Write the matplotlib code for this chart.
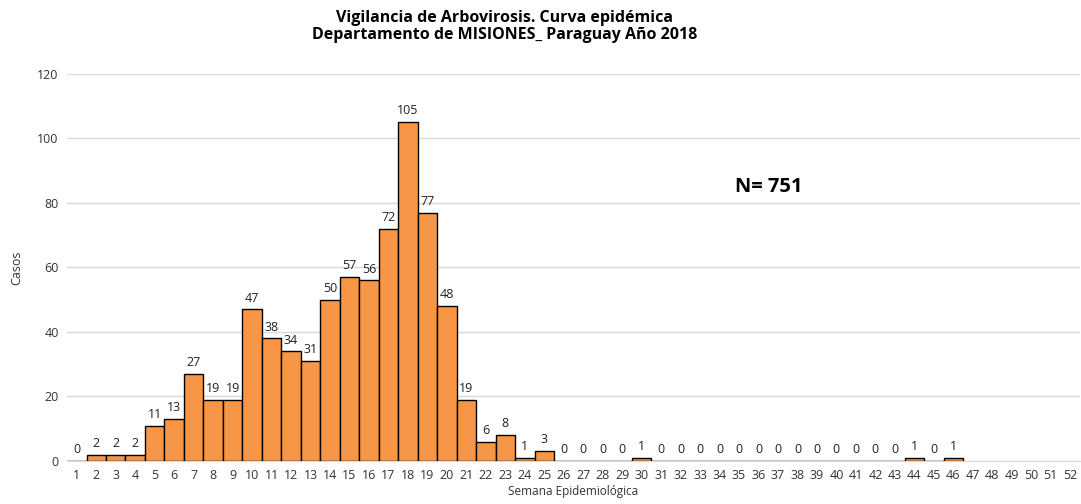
import matplotlib.pyplot as plt

# Weekly cases, weeks 1-46 (weeks 47-52 have no data).
weeks = list(range(1, 47))
cases = [0, 2, 2, 2, 11, 13, 27, 19, 19, 47, 38, 34, 31, 50, 57, 56, 72, 105, 77, 48,
         19, 6, 8, 1, 3, 0, 0, 0, 0, 1, 0, 0, 0, 0, 0, 0, 0, 0, 0, 0,
         0, 0, 0, 1, 0, 1]
all_weeks = list(range(1, 53))
yticks = [0, 20, 40, 60, 80, 100, 120]
title = "Vigilancia de Arbovirosis. Curva epidémica\nDepartamento de MISIONES_ Paraguay Año 2018"
total_label = "N= 751"

plt.rcParams['font.family'] = ['Open Sans', 'DejaVu Sans']

fig = plt.figure(figsize=(10.81, 5.04), dpi=100)
ax = fig.add_axes([0.062, 0.0853, 0.937, 0.768])

ax.bar(weeks, cases, width=1.0, color='#F79646', edgecolor='black', linewidth=1.0, zorder=3)
for x, v in zip(weeks, cases):
    ax.text(x, v + 1.5, str(v), ha='center', va='bottom', fontsize=9, color='#222222')

ax.set_xlim(0.5, 52.5)
ax.set_ylim(0, 120)
ax.set_xticks(all_weeks)
ax.set_xticklabels([str(w) for w in all_weeks], fontsize=9, color='#333333')
ax.set_yticks(yticks)
ax.set_yticklabels([str(t) for t in yticks], fontsize=9, color='#333333')
ax.tick_params(axis='both', length=0, pad=6)
ax.yaxis.grid(True, color='#d9d9d9', linewidth=1, zorder=0)
for s in ['top', 'right', 'left']:
    ax.spines[s].set_visible(False)
ax.spines['bottom'].set_color('#d9d9d9')

ax.set_ylabel('Casos', fontsize=9, color='#333333', labelpad=10)
ax.set_xlabel('Semana Epidemiológica', fontsize=8.5, color='#333333', labelpad=2)

fig.text(0.467, 0.98, title, ha='center', va='top', fontsize=11.5, fontweight='bold', linespacing=1.05)
ax.text(36.5, 85, total_label, ha='center', va='center', fontsize=14.5, fontweight='bold')

fig.savefig('out.png', dpi=100)
